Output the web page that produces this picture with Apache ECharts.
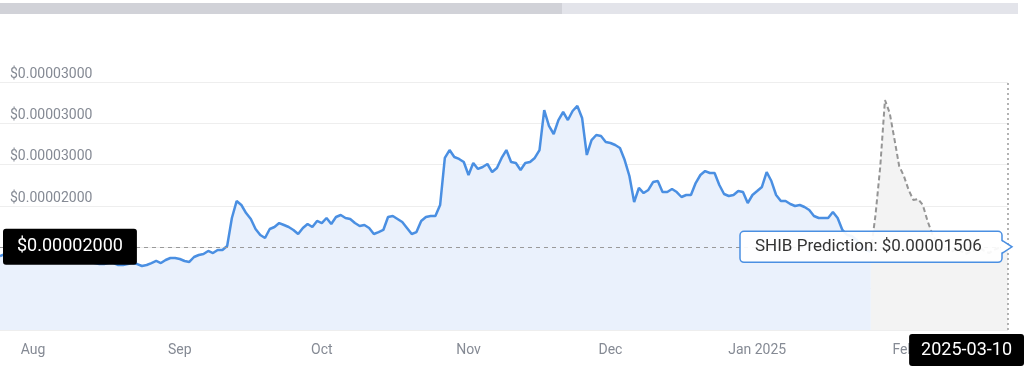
<!DOCTYPE html>
<html>
<head>
<meta charset="utf-8">
<title>SHIB</title>
<script src="https://cdn.jsdelivr.net/npm/echarts@6/dist/echarts.min.js"></script>
<style>
    html, body { margin: 0; padding: 0; background: #fff; }
    #chartmain { width: 1024px; height: 377px; }
</style>
</head>
<body>
<div id="chartmain"></div>
<script type="text/javascript">

    // daily closes from this date on
    var startDate = '2024-07-25';
    var prices = [
        0.00001395, 0.00001419, 0.00001431, 0.00001444, 0.00001456, 0.00001431, 0.00001407, 0.00001395, 0.00001383, 0.00001395,
        0.00001407, 0.00001407, 0.00001383, 0.00001371, 0.00001359, 0.00001347, 0.00001347, 0.00001359, 0.00001347, 0.00001323,
        0.00001310, 0.00001298, 0.00001298, 0.00001310, 0.00001310, 0.00001286, 0.00001286, 0.00001298, 0.00001310, 0.00001298,
        0.00001274, 0.00001286, 0.00001310, 0.00001335, 0.00001310, 0.00001347, 0.00001371, 0.00001371, 0.00001359, 0.00001335,
        0.00001323, 0.00001383, 0.00001407, 0.00001419, 0.00001456, 0.00001431, 0.00001468, 0.00001468, 0.00001516, 0.00001855,
        0.00002060, 0.00002012, 0.00001915, 0.00001843, 0.00001722, 0.00001649, 0.00001613, 0.00001722, 0.00001746, 0.00001794,
        0.00001770, 0.00001746, 0.00001710, 0.00001661, 0.00001734, 0.00001782, 0.00001746, 0.00001819, 0.00001794, 0.00001855,
        0.00001782, 0.00001867, 0.00001891, 0.00001855, 0.00001843, 0.00001794, 0.00001758, 0.00001770, 0.00001734, 0.00001661,
        0.00001685, 0.00001710, 0.00001867, 0.00001879, 0.00001843, 0.00001806, 0.00001734, 0.00001661, 0.00001685, 0.00001819,
        0.00001867, 0.00001879, 0.00001879, 0.00002012, 0.00002581, 0.00002677, 0.00002593, 0.00002569, 0.00002532, 0.00002375,
        0.00002520, 0.00002448, 0.00002472, 0.00002508, 0.00002411, 0.00002460, 0.00002581, 0.00002677, 0.00002532, 0.00002520,
        0.00002435, 0.00002520, 0.00002532, 0.00002581, 0.00002677, 0.00003161, 0.00002968, 0.00002871, 0.00003040, 0.00003137,
        0.00003040, 0.00003149, 0.00003210, 0.00003065, 0.00002617, 0.00002798, 0.00002859, 0.00002847, 0.00002774, 0.00002762,
        0.00002738, 0.00002702, 0.00002556, 0.00002363, 0.00002048, 0.00002218, 0.00002157, 0.00002194, 0.00002290, 0.00002302,
        0.00002169, 0.00002169, 0.00002206, 0.00002169, 0.00002109, 0.00002133, 0.00002133, 0.00002278, 0.00002375, 0.00002423,
        0.00002399, 0.00002399, 0.00002254, 0.00002145, 0.00002121, 0.00002133, 0.00002181, 0.00002169, 0.00002036, 0.00002133,
        0.00002181, 0.00002230, 0.00002411, 0.00002302, 0.00002133, 0.00002060, 0.00002060, 0.00002024, 0.00002000, 0.00002012,
        0.00001988, 0.00001952, 0.00001879, 0.00001855, 0.00001855, 0.00001855, 0.00001927, 0.00001855, 0.00001710, 0.00001649,
        0.00001637, 0.00001589, 0.00001516, 0.00001468, 0.00001444
    ];

    // prediction starts on the last real day
    var predictFrom = 184;
    var predicted = [
        0.00001444, 0.00001891, 0.00002472, 0.00003282, 0.00003125, 0.00002810, 0.00002484, 0.00002363, 0.00002194, 0.00002073,
        0.00002085, 0.00002012, 0.00001819, 0.00001661, 0.00001552, 0.00001492, 0.00001468, 0.00001444, 0.00001480, 0.00001456,
        0.00001419, 0.00001444, 0.00001468, 0.00001492, 0.00001456, 0.00001431, 0.00001468, 0.00001492, 0.00001480, 0.00001506
    ];

    var yMin = 0.000005;
    var yMax = 0.000035;
    var yStep = 0.000005;
    var yTickLabels = ['$0.00001000', '$0.00001000', '$0.00002000', '$0.00002000', '$0.00003000', '$0.00003000', '$0.00003000'];
    var monthNames = ['Jan', 'Feb', 'Mar', 'Apr', 'May', 'Jun', 'Jul', 'Aug', 'Sep', 'Oct', 'Nov', 'Dec'];

    var predictName = 'SHIB Prediction';
    var hoverDate = '2025-03-10';
    var hoverPrice = 0.00001506;

    var parts = startDate.split('-');
    function dayTime(i) {
        return new Date(+parts[0], +parts[1] - 1, +parts[2] + i).getTime();
    }
    var priceData = prices.map(function (v, i) { return [dayTime(i), v]; });
    var predictData = predicted.map(function (v, i) { return [dayTime(predictFrom + i), v]; });
    var lastTime = predictData[predictData.length - 1][0];

    var myChart = echarts.init(document.getElementById('chartmain'));

    myChart.setOption({
        animation: false,
        textStyle: { fontFamily: 'Roboto' },
        grid: { left: 0, right: 16, top: 82, bottom: 47 },
        xAxis: {
            type: 'time',
            min: priceData[0][0],
            max: lastTime,
            splitNumber: 7,
            minInterval: 28 * 86400000,
            maxInterval: 31 * 86400000,
            axisLine: { show: false },
            axisTick: { show: false },
            splitLine: { show: false },
            axisLabel: {
                color: '#858a94',
                fontSize: 14,
                margin: 13,
                showMinLabel: false,
                showMaxLabel: false,
                formatter: function (val) {
                    var d = new Date(val);
                    var m = d.getMonth();
                    return m === 0 ? monthNames[m] + ' ' + d.getFullYear() : monthNames[m];
                }
            },
            axisPointer: {
                show: true,
                status: 'show',
                value: lastTime,
                triggerTooltip: false,
                type: 'line',
                lineStyle: { color: '#9a9a9a', width: 1.5, type: [2, 3] },
                label: {
                    show: true,
                    backgroundColor: '#000',
                    color: '#fff',
                    fontSize: 18,
                    padding: [7, 12, 7, 12],
                    margin: 4,
                    formatter: function () { return hoverDate; }
                }
            }
        },
        yAxis: {
            type: 'value',
            min: yMin,
            max: yMax,
            interval: yStep,
            axisLine: { show: false },
            axisTick: { show: false },
            splitLine: { lineStyle: { color: '#eeeeee' } },
            axisLabel: {
                inside: true,
                margin: 10,
                verticalAlign: 'bottom',
                padding: [0, 0, 1, 0],
                color: '#858a94',
                fontSize: 14,
                formatter: function (v) {
                    return yTickLabels[Math.round((v - yMin) / yStep)];
                }
            },
            axisPointer: {
                show: true,
                status: 'show',
                value: hoverPrice,
                triggerTooltip: false,
                type: 'line',
                lineStyle: { color: '#9a9a9a', width: 1, type: [4, 4] },
                label: {
                    show: true,
                    backgroundColor: '#000',
                    color: '#fff',
                    fontSize: 18,
                    padding: [9, 14, 9, 14],
                    formatter: function (p) { return '$' + p.value.toFixed(5) + '000'; }
                }
            }
        },
        series: [
            {
                name: 'SHIB',
                type: 'line',
                data: priceData,
                showSymbol: false,
                lineStyle: { color: '#4a8fe2', width: 2.5 },
                areaStyle: { color: '#eaf1fc', opacity: 1 },
                z: 3
            },
            {
                name: predictName,
                type: 'line',
                data: predictData,
                showSymbol: false,
                lineStyle: { color: '#959595', width: 2, type: [5, 3] },
                areaStyle: { color: '#f3f3f3', opacity: 1 },
                z: 2
            }
        ]
    });

    // tooltip box next to the hovered prediction point
    var pt = myChart.convertToPixel({ gridIndex: 0 }, [lastTime, hoverPrice]);
    var bx0 = pt[0] - 268, bx1 = pt[0] - 6, by0 = pt[1] - 15.5, by1 = pt[1] + 15.5;

    myChart.setOption({
        graphic: [
            { type: 'rect', shape: { x: 0, y: 3, width: 562, height: 11 }, style: { fill: '#d1d2d8' }, silent: true },
            { type: 'rect', shape: { x: 562, y: 3, width: 456, height: 11 }, style: { fill: '#e3e4ea' }, silent: true },
            {
                type: 'rect', z: 200,
                shape: { x: bx0, y: by0, width: bx1 - bx0, height: by1 - by0, r: 4 },
                style: { fill: 'rgba(255,255,255,0.92)', stroke: '#4a8fe2', lineWidth: 1.5 }
            },
            {
                type: 'polygon', z: 201,
                shape: { points: [[bx1 - 1, pt[1] - 6], [pt[0] + 4, pt[1]], [bx1 - 1, pt[1] + 6]] },
                style: { fill: '#fff' }
            },
            {
                type: 'polyline', z: 202,
                shape: { points: [[bx1, pt[1] - 6.5], [pt[0] + 4, pt[1]], [bx1, pt[1] + 6.5]] },
                style: { stroke: '#4a8fe2', lineWidth: 1.5, fill: null }
            },
            {
                type: 'text', z: 203,
                x: bx0 + 15, y: pt[1],
                style: {
                    text: predictName + ': $' + hoverPrice.toFixed(8),
                    fill: '#333',
                    font: '17px Roboto',
                    verticalAlign: 'middle',
                    align: 'left'
                }
            }
        ]
    });

</script>
</body>
</html>
